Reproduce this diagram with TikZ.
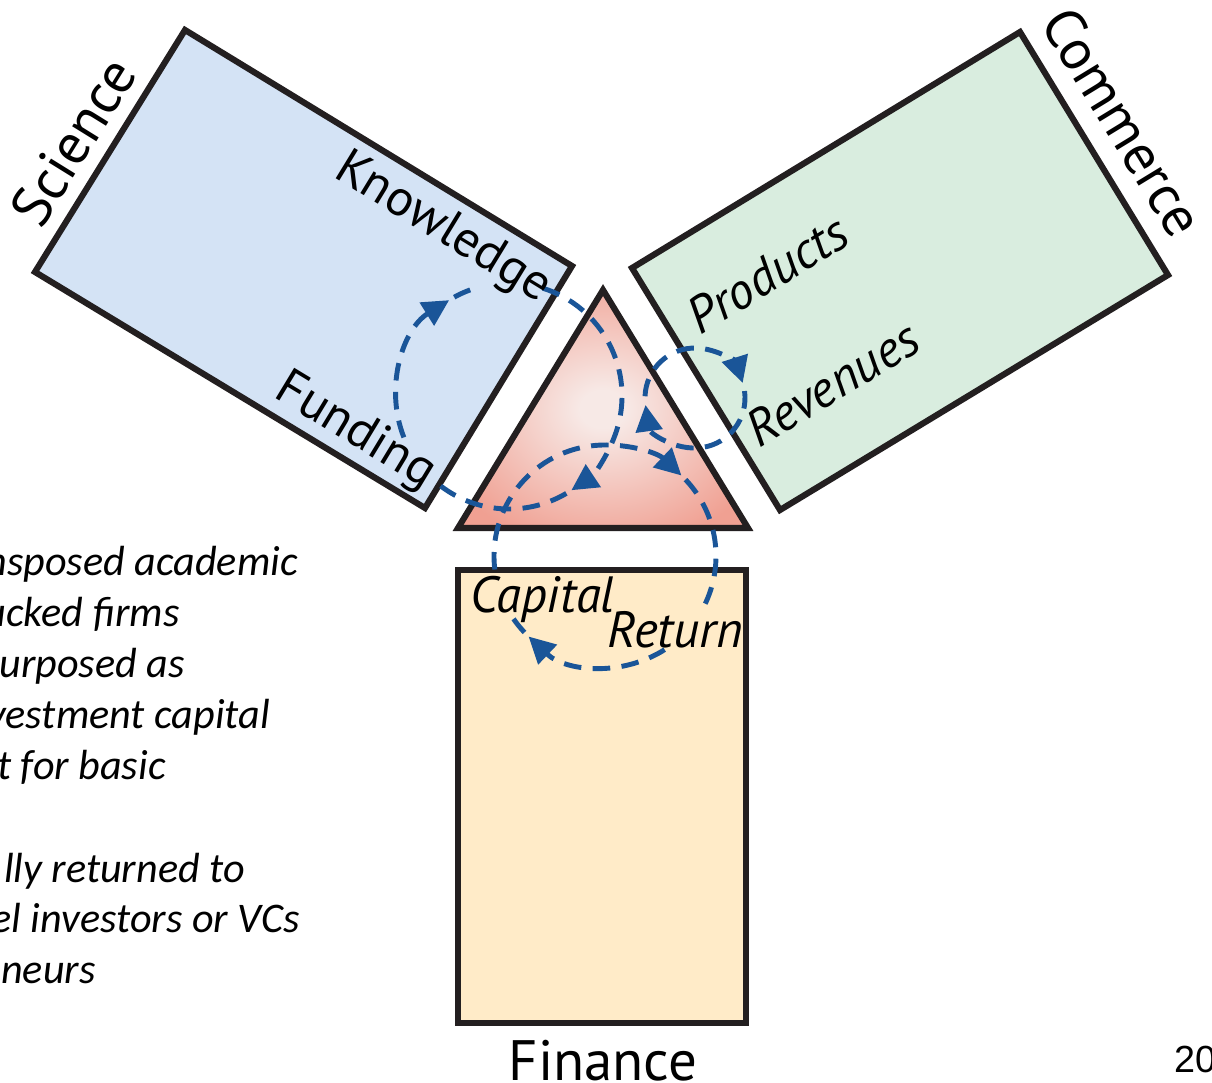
\documentclass[tikz,border=0pt]{standalone}
\usepackage{fontspec}
\setmainfont{PT Sans}
\newfontfamily\notefont{Carlito}
\newfontfamily\pagefont{Liberation Sans}
\usetikzlibrary{arrows.meta}

\definecolor{sciblue}{HTML}{D4E3F5}
\definecolor{comgreen}{HTML}{D9EDDF}
\definecolor{finyellow}{HTML}{FFEBC8}
\definecolor{flowblue}{HTML}{1A5598}
\definecolor{coreinner}{HTML}{F7E9E6}
\definecolor{coreouter}{HTML}{F0A092}
\definecolor{edgeblack}{HTML}{231F20}

\pgfdeclareradialshading{coreglow}{\pgfpoint{0bp}{0bp}}{color(0bp)=(coreinner); color(4bp)=(coreinner); color(30bp)=(coreouter); color(50bp)=(coreouter)}

\begin{document}
\begin{tikzpicture}[x=0.02cm,y=-0.02cm,
    box/.style={draw=edgeblack,line width=3.5pt},
    flow/.style={draw=flowblue,line width=2.8pt,dash pattern=on 10pt off 6.5pt},
    tip/.style={-{Triangle[length=15pt,width=15pt]}},
    spheretext/.style={inner sep=0pt,font=\fontsize{32.4}{36}\selectfont},
    flowtext/.style={inner sep=0pt,font=\fontsize{29}{32}\selectfont},
    flowital/.style={inner sep=0pt,font=\itshape\fontsize{29}{32}\selectfont},
    note/.style={inner sep=0pt,anchor=base east,font=\notefont\itshape\fontsize{24}{29}\selectfont}]

  % Canvas
  \useasboundingbox (0,0) rectangle (1212,1082);

  % Three spheres
  \draw[box,fill=sciblue] (185,30) -- (572,266) -- (425,508) -- (35,272) -- cycle;
  \draw[box,fill=comgreen] (1020,32) -- (1168,275) -- (780,510) -- (632,268) -- cycle;
  \draw[box,fill=finyellow] (458,570) rectangle (746,1023);

  % Core triangle
  \shade[shading=coreglow] (603,290) -- (748,528) -- (458,528) -- cycle;
  \draw[box] (603,290) -- (748,528) -- (458,528) -- cycle;

  % Science loop
  \coordinate (sciloop) at (509,396);
  \draw[flow,tip] (sciloop) ++(158.5:113) arc[start angle=158.5,end angle=238,radius=113];
  \draw[flow] (sciloop) ++(241:113) arc[start angle=241,end angle=255.5,radius=113];
  \draw[flow,tip] (sciloop) ++(287.5:113) arc[start angle=287.5,end angle=416.5,radius=113];
  \draw[flow] (sciloop) ++(419.5:113) arc[start angle=419.5,end angle=489.5,radius=113];

  % Finance loop
  \coordinate (finloop) at (605,556);
  \draw[flow,tip] (finloop) ++(173:111) arc[start angle=173,end angle=313.5,radius=111];
  \draw[flow] (finloop) ++(316.5:111) arc[start angle=316.5,end angle=386.5,radius=111];
  \draw[flow,tip] (finloop) ++(417.5:111) arc[start angle=417.5,end angle=493.5,radius=111];
  \draw[flow] (finloop) ++(496.5:111) arc[start angle=496.5,end angle=505.5,radius=111];

  % Commerce loop
  \coordinate (comloop) at (695,398);
  \draw[flow,tip] (comloop) ++(182:50) arc[start angle=182,end angle=342.5,radius=50];
  \draw[flow,tip] (comloop) ++(352:50) arc[start angle=352,end angle=532,radius=50];

  % Sphere names
  \node[spheretext,rotate=58.2,anchor=base] (science) at (90,152) {Science};
  \node[spheretext,rotate=-58.6,anchor=base] (commerce) at (1106,132) {Commerce};
  \node[spheretext,anchor=base] (finance) at (603,1080) {Finance};

  % Flow labels
  \node[flowtext,rotate=-31.4,anchor=base east] (knowledge) at (540,303) {Knowledge};
  \node[flowtext,rotate=-31.2,anchor=base east] (funding) at (425,489) {Funding};
  \node[flowital,rotate=31.4,anchor=base west] (products) at (700,336) {Products};
  \node[flowital,rotate=31.4,anchor=base west] (revenues) at (759,449) {Revenues};
  \node[flowital,anchor=base west] (capital) at (470,612) {Capital};
  \node[flowital,anchor=base west] (return) at (607,647) {Return};

  % Side notes, cut at the left edge
  \foreach \y/\x/\txt in {575/298/nsposed academic, 626/180/ucked firms,
      677/185/urposed as, 728/270/vestment capital, 779/166/t for basic,
      882/245/lly returned to, 932/300/el investors or VCs, 983/96/neurs}
    \node[note] (note\y) at (\x,\y) {\txt};

  % Page number
  \node[inner sep=0pt,anchor=base west,font=\pagefont\fontsize{21.5}{24}\selectfont] (page) at (1174,1072) {20};
\end{tikzpicture}
\end{document}
